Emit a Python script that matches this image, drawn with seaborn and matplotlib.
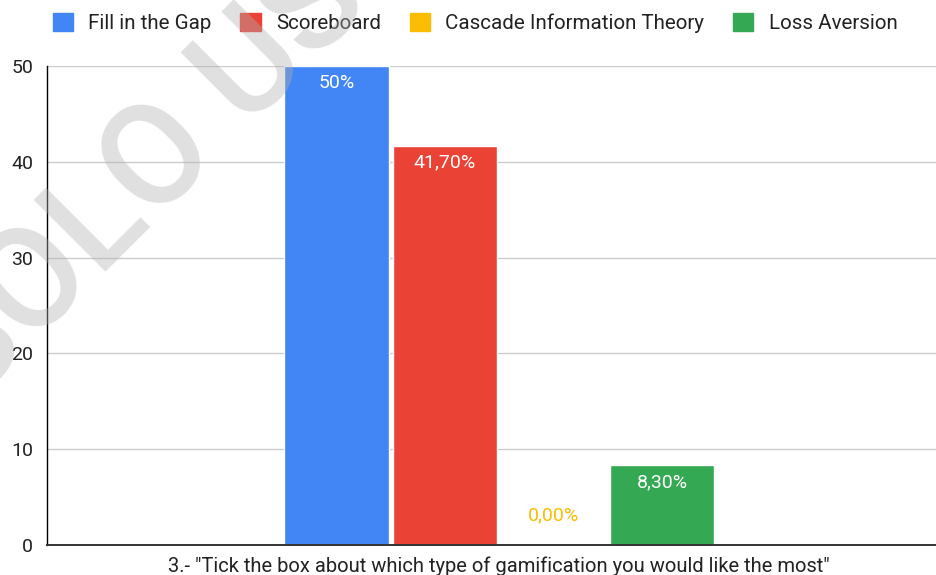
import pandas as pd
import matplotlib.pyplot as plt
import seaborn as sns
from matplotlib.patches import Patch

# ---------------- data ----------------
question = '3.- "Tick the box about which type of gamification you would like the most"'
types = ['Fill in the Gap', 'Scoreboard', 'Cascade Information Theory', 'Loss Aversion']
values = [50, 41.7, 0, 8.3]
value_labels = ['50%', '41,70%', '0,00%', '8,30%']
colors = ['#4285F4', '#EA4335', '#FBBC04', '#34A853']

df = pd.DataFrame({'question': [question] * len(types), 'type': types, 'value': values})

# ---------------- style ----------------
sns.set_style('white')
plt.rcParams['font.family'] = ['Roboto', 'DejaVu Sans']
plt.rcParams['font.size'] = 14

fig = plt.figure(figsize=(9.37, 5.75), dpi=100)
ax = fig.add_axes([0.0502, 0.0522, 0.95, 0.833])

sns.barplot(data=df, x='question', y='value', hue='type', hue_order=types,
            palette=colors, width=0.8, gap=0.035, saturation=1, ax=ax, zorder=2)

ax.set_ylim(0, 50)
ax.set_yticks(range(0, 51, 10))
ax.set_xlim(-0.833, 0.807)
ax.set_xlabel('')
ax.set_ylabel('')
ax.grid(axis='y', color='#cccccc', lw=1, zorder=0)
ax.set_axisbelow(True)
for s in ['top', 'right']:
    ax.spines[s].set_visible(False)
ax.spines['left'].set_color('black')
ax.spines['left'].set_linewidth(1)
ax.spines['bottom'].set_color('#333333')
ax.spines['bottom'].set_linewidth(1.4)
ax.tick_params(axis='y', length=0, pad=10, labelsize=14, colors='#222222')
ax.tick_params(axis='x', length=0, pad=8, labelsize=14.5, colors='#222222')

# value labels
for cont, lab, col, v in zip(ax.containers, value_labels, colors, values):
    bar = cont[0]
    x = bar.get_x() + bar.get_width() / 2
    if v > 0:
        ax.annotate(lab, (x, v), xytext=(0, -12), textcoords='offset points',
                    ha='center', va='center', color='white', fontsize=14)
    else:
        ax.annotate(lab, (x, v), xytext=(0, 21), textcoords='offset points',
                    ha='center', va='center', color=col, fontsize=14)

# legend on top
ax.get_legend().remove()
handles = [Patch(facecolor=c, edgecolor=c) for c in colors]
fig.legend(handles, types, loc='center', bbox_to_anchor=(0.507, 0.96), ncol=4,
           frameon=False, fontsize=14.8, handlelength=0.98, handleheight=0.98,
           handletextpad=0.75, columnspacing=1.4, labelcolor='#222222')

# watermark
fig.text(0.19, 0.75, 'SOLO USO', rotation=45, rotation_mode='anchor',
         ha='center', va='center', fontsize=102, fontweight=500,
         color='#b1b1b1', alpha=0.4, zorder=10)

fig.savefig('out.png', dpi=100)
